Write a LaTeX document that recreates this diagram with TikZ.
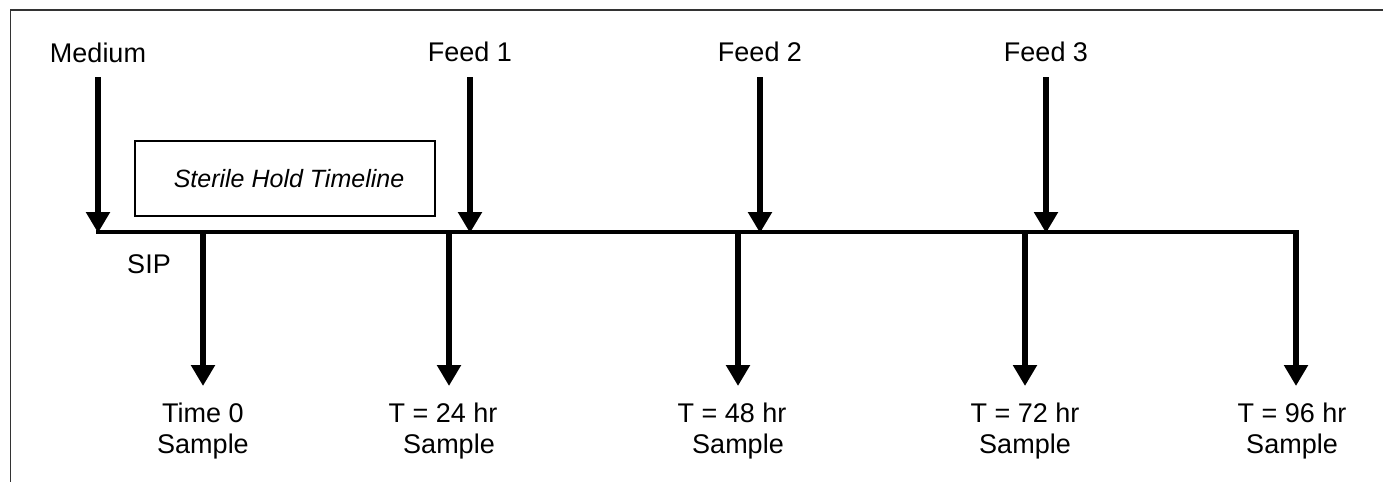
\documentclass[tikz,border=0pt]{standalone}
\usepackage{fontspec}
\setmainfont{Liberation Sans}
\usetikzlibrary{arrows.meta}
\begin{document}
\begin{tikzpicture}[x=1pt,y=-1pt,
  lbl/.style={font=\fontsize{27}{31}\selectfont, inner sep=0pt, anchor=base},
  lbltwo/.style={font=\fontsize{27}{31}\selectfont, inner sep=0pt, align=center, anchor=north},
  bigarrow/.style={line width=6pt, -{Triangle[width=23pt,length=21pt]}},
  axisline/.style={line width=3.5pt, line cap=butt},
  holdbox/.style={draw, line width=2pt, minimum width=300pt, minimum height=75pt, inner sep=0pt,
    font=\fontsize{25}{29}\selectfont\itshape},
  frameline/.style={line width=1.6pt, draw=black!80}]
\useasboundingbox (0,0) rectangle (1383,482);

% outer frame: top and left edges only
\coordinate (fTL) at (10.5,10);
\coordinate (fTR) at (1383,10);
\coordinate (fBL) at (10.5,482);
\draw[frameline] (fTR) -- (fTL) -- (fBL);

% timeline
\coordinate (t0) at (96,232);
\coordinate (t1) at (1298,232);
\draw[axisline] (t0) -- (t1);

% holding box
\node[holdbox] (hold) at (285,178.5) {\hspace*{8pt}Sterile Hold Timeline};

% input arrows from above
\node[lbl] (medium) at (98,62) {Medium};
\node[lbl] (feed1) at (470,61) {Feed 1};
\node[lbl] (feed2) at (760,61) {Feed 2};
\node[lbl] (feed3) at (1046,61) {Feed 3};

\coordinate (mTop) at (98,77);   \coordinate (mEnd) at (98,233);
\coordinate (f1Top) at (470,77); \coordinate (f1End) at (470,233);
\coordinate (f2Top) at (760,77); \coordinate (f2End) at (760,233);
\coordinate (f3Top) at (1046,77);\coordinate (f3End) at (1046,233);
\draw[bigarrow] (mTop) -- (mEnd);
\draw[bigarrow] (f1Top) -- (f1End);
\draw[bigarrow] (f2Top) -- (f2End);
\draw[bigarrow] (f3Top) -- (f3End);

\node[lbl] (sip) at (149,273) {SIP};

% sampling arrows below
\coordinate (s0a) at (203,230);  \coordinate (s0b) at (203,386);
\coordinate (s1a) at (449,230);  \coordinate (s1b) at (449,386);
\coordinate (s2a) at (738,230);  \coordinate (s2b) at (738,386);
\coordinate (s3a) at (1025,230); \coordinate (s3b) at (1025,386);
\coordinate (s4a) at (1296,230); \coordinate (s4b) at (1296,386);
\draw[bigarrow] (s0a) -- (s0b);
\draw[bigarrow] (s1a) -- (s1b);
\draw[bigarrow] (s2a) -- (s2b);
\draw[bigarrow] (s3a) -- (s3b);
\draw[bigarrow] (s4a) -- (s4b);

\node[lbltwo] (smp0) at (203,403) {Time 0\\Sample};
\node[lbltwo] (smp1) at (443,403) {T = 24 hr\\\hspace*{12pt}Sample};
\node[lbltwo] (smp2) at (732,403) {T = 48 hr\\\hspace*{12pt}Sample};
\node[lbltwo] (smp3) at (1025,403) {T = 72 hr\\Sample};
\node[lbltwo] (smp4) at (1292,403) {T = 96 hr\\Sample};
\end{tikzpicture}
\end{document}
